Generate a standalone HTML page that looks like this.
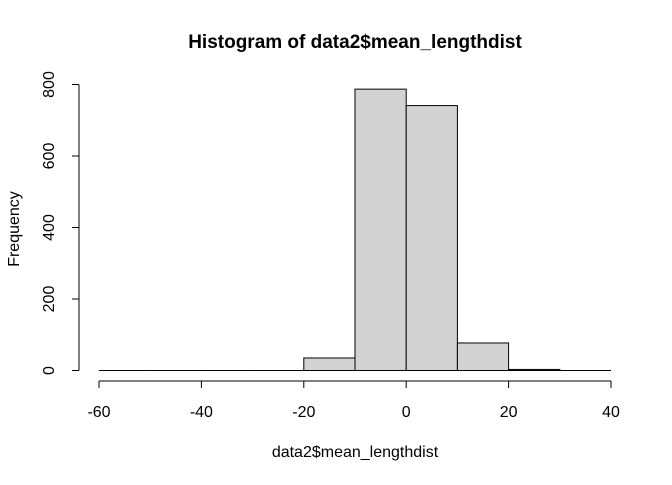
<!DOCTYPE html>
<html><head><meta charset="utf-8"><style>
body{margin:0;background:#fff}
svg text{font-family:"Liberation Sans",Arial,sans-serif;fill:#000}
</style></head><body>
<svg width="672" height="480" xmlns="http://www.w3.org/2000/svg">
<text x="355" y="48" text-anchor="middle" font-size="19" font-weight="bold">Histogram of data2$mean_lengthdist</text>
<g id="bars"></g>
<g id="xaxis"></g>
<g id="yaxis"></g>
<text x="355" y="457" text-anchor="middle" font-size="16">data2$mean_lengthdist</text>
<text transform="translate(19,229) rotate(-90)" text-anchor="middle" font-size="16">Frequency</text>
</svg>
<script>
const binStarts=[-60,-50,-40,-30,-20,-10,0,10,20,30];
const counts=[0,0,0,0,35,787,741,77,3,0];
const xTicks=[-60,-40,-20,0,20,40];
const yTicks=[0,200,400,600,800];
const binWidth=10;
const ns="http://www.w3.org/2000/svg";
function X(v){return 99+(v+60)*5.12;}
function Y(v){return 370.5-v*0.3575;}
function mk(t,a,p){const e=document.createElementNS(ns,t);for(const k in a)e.setAttribute(k,a[k]);p.appendChild(e);return e;}
const bars=document.getElementById('bars');
binStarts.forEach((b,i)=>{
 const x0=X(b),x1=X(b+binWidth),y=Y(counts[i]);
 let r;
 if(counts[i]===0){
  r=mk('line',{x1:x0,x2:x1,y1:Y(0),y2:Y(0),stroke:'#000','stroke-width':1},bars);
 } else {
  r=mk('rect',{x:x0,y:y,width:x1-x0,height:Y(0)-y,fill:'#d3d3d3',stroke:'#000','stroke-width':1},bars);
 }
 
 
});
const xa=document.getElementById('xaxis');
mk('line',{x1:X(xTicks[0]),x2:X(xTicks[xTicks.length-1]),y1:381,y2:381,stroke:'#000'},xa);
xTicks.forEach(t=>{
 mk('line',{x1:X(t),x2:X(t),y1:381,y2:388,stroke:'#000'},xa);
 const tx=mk('text',{x:X(t),y:417,'text-anchor':'middle','font-size':16},xa);
 tx.textContent=t;
 
 
});
const ya=document.getElementById('yaxis');
mk('line',{x1:79,x2:79,y1:Y(yTicks[0]),y2:Y(yTicks[yTicks.length-1]),stroke:'#000'},ya);
yTicks.forEach(t=>{
 mk('line',{x1:72,x2:79,y1:Y(t),y2:Y(t),stroke:'#000'},ya);
 const tx=mk('text',{transform:'translate(54,'+Y(t)+') rotate(-90)','text-anchor':'middle','font-size':16},ya);
 tx.textContent=t;
 
 
});
</script>
</body></html>
